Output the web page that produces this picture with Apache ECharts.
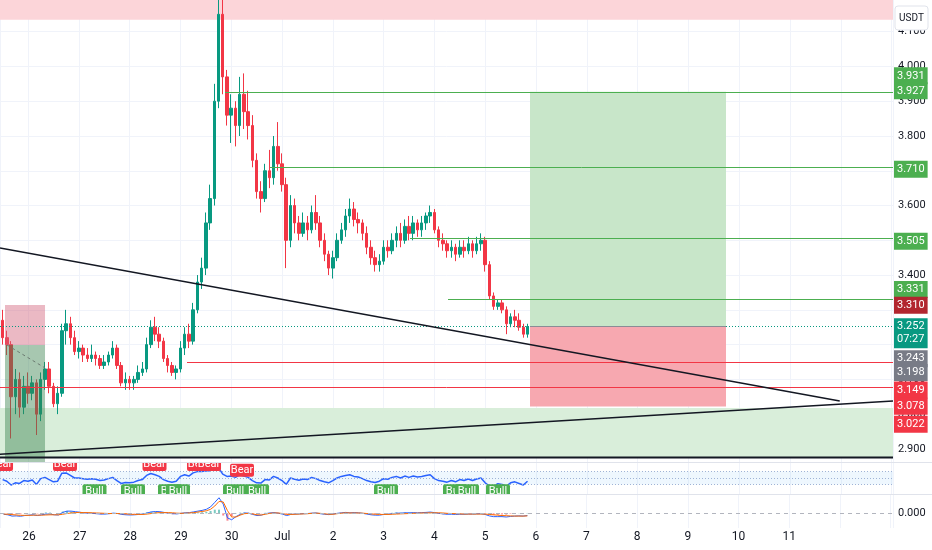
<!DOCTYPE html>
<html><head><meta charset="utf-8">
<script src="https://cdn.jsdelivr.net/npm/echarts@6/dist/echarts.min.js"></script>
<style>html,body{margin:0;padding:0;background:#fff}#c{width:932px;height:550px}</style>
</head><body><div id="c"></div>
<script>
const T = (mo, d, h = 0, mi = 0) => new Date(2025, mo - 1, d, h, mi).getTime();
const HOUR = 3600000;

// ---- price candles (2h), rows: [open, close, low, high]
const candleStart = T(6, 25, 12);
const candleStepHours = 2;
const candles = [
 [3.27,3.22,3.20,3.30],[3.22,3.20,3.17,3.24],[3.20,3.05,2.93,3.21],[3.05,3.10,3.00,3.13],[3.10,3.02,2.99,3.12],[3.02,3.08,3.00,3.11],
 [3.08,3.06,3.03,3.12],[3.06,3.09,3.04,3.11],[3.09,3.00,2.94,3.10],[3.00,3.10,2.98,3.12],[3.10,3.13,3.07,3.15],[3.13,3.08,3.06,3.15],
 [3.08,3.03,3.02,3.09],[3.03,3.06,3.00,3.08],[3.06,3.24,3.05,3.26],[3.24,3.26,3.20,3.30],[3.26,3.22,3.20,3.28],[3.22,3.18,3.17,3.24],
 [3.18,3.19,3.16,3.21],[3.19,3.17,3.15,3.20],[3.17,3.16,3.15,3.19],[3.16,3.17,3.15,3.20],[3.17,3.16,3.14,3.18],[3.16,3.14,3.13,3.17],
 [3.14,3.15,3.13,3.17],[3.15,3.17,3.14,3.18],[3.17,3.19,3.16,3.21],[3.19,3.14,3.13,3.20],[3.14,3.09,3.08,3.15],[3.09,3.10,3.07,3.12],
 [3.10,3.09,3.07,3.11],[3.09,3.10,3.07,3.11],[3.10,3.12,3.09,3.14],[3.12,3.13,3.11,3.15],[3.13,3.20,3.12,3.22],[3.20,3.25,3.19,3.27],
 [3.25,3.23,3.21,3.28],[3.23,3.21,3.19,3.25],[3.21,3.16,3.15,3.22],[3.16,3.14,3.12,3.17],[3.14,3.12,3.11,3.15],[3.12,3.13,3.10,3.14],
 [3.13,3.19,3.12,3.21],[3.19,3.23,3.17,3.25],[3.23,3.21,3.19,3.26],[3.21,3.30,3.20,3.32],[3.30,3.38,3.29,3.40],[3.38,3.42,3.36,3.45],
 [3.42,3.55,3.40,3.58],[3.55,3.62,3.53,3.66],[3.62,3.90,3.60,3.95],[3.90,4.15,3.88,4.25],[4.15,3.97,3.92,4.22],[3.97,3.86,3.83,3.99],
 [3.86,3.88,3.78,3.92],[3.88,3.83,3.77,3.90],[3.83,3.92,3.80,3.97],[3.92,3.87,3.82,3.98],[3.87,3.83,3.79,3.93],[3.83,3.73,3.71,3.86],
 [3.73,3.64,3.62,3.75],[3.64,3.62,3.58,3.67],[3.62,3.70,3.61,3.72],[3.70,3.68,3.65,3.76],[3.68,3.77,3.66,3.80],[3.77,3.72,3.70,3.84],
 [3.72,3.66,3.64,3.75],[3.66,3.50,3.42,3.68],[3.50,3.60,3.48,3.63],[3.60,3.55,3.52,3.62],[3.55,3.52,3.50,3.57],[3.52,3.55,3.51,3.58],
 [3.55,3.53,3.50,3.57],[3.53,3.58,3.52,3.60],[3.58,3.55,3.53,3.63],[3.55,3.50,3.48,3.57],[3.50,3.46,3.44,3.52],[3.46,3.42,3.40,3.47],
 [3.42,3.45,3.39,3.47],[3.45,3.50,3.44,3.52],[3.50,3.53,3.49,3.55],[3.53,3.57,3.51,3.59],[3.57,3.59,3.55,3.62],[3.59,3.56,3.54,3.61],
 [3.56,3.55,3.52,3.58],[3.55,3.52,3.50,3.56],[3.52,3.48,3.46,3.54],[3.48,3.45,3.43,3.50],[3.45,3.43,3.41,3.47],[3.43,3.44,3.41,3.46],
 [3.44,3.48,3.43,3.50],[3.48,3.47,3.45,3.50],[3.47,3.50,3.46,3.52],[3.50,3.52,3.48,3.54],[3.52,3.50,3.48,3.55],[3.50,3.54,3.49,3.56],
 [3.54,3.52,3.50,3.57],[3.52,3.55,3.50,3.57],[3.55,3.53,3.51,3.56],[3.53,3.55,3.51,3.57],[3.55,3.57,3.53,3.58],[3.57,3.58,3.55,3.60],
 [3.58,3.53,3.52,3.59],[3.53,3.50,3.48,3.54],[3.50,3.49,3.47,3.52],[3.49,3.47,3.45,3.50],[3.47,3.48,3.45,3.50],[3.48,3.46,3.44,3.49],
 [3.46,3.48,3.45,3.50],[3.48,3.47,3.45,3.50],[3.47,3.49,3.46,3.51],[3.49,3.47,3.45,3.50],[3.47,3.49,3.46,3.51],[3.49,3.50,3.47,3.52],
 [3.50,3.43,3.41,3.51],[3.43,3.34,3.33,3.44],[3.34,3.31,3.30,3.35],[3.31,3.32,3.30,3.33],[3.32,3.30,3.29,3.33],[3.30,3.26,3.23,3.31],
 [3.26,3.28,3.25,3.29],[3.28,3.27,3.25,3.30],[3.27,3.25,3.24,3.29],[3.25,3.23,3.22,3.26],[3.23,3.252,3.22,3.26]
];

// ---- oscillator pane (0..100)
const rsiValues = [45,40,28,35,33,42, 40,44,30,48,52,45,38,40, 65,66,58,50,50, 48,46,48,46,42,44,48,52,42,
 33,36,35,37,42,45, 58,64,60,55,45,40,37,40, 55,60,56,66,70,70,72,73, 78,82,62,55, 56,52,60,56,52,42,35,
 34,45,44,55,50,42,30, 50,46,43,47,45,52,48,42,38,35, 42,50,55,58,60,55,53,48, 42,38,36,40,48,46,52,55,
 50,56,52,56,53,55,58,60, 48,42,40,37,42,38,45,42,47,42,47,50, 35,25,25,32,30,25,35,38,33,28,40];
const rsiBands = [70, 50, 30];
const bearSignals = [[T(6,25,11,15),92],[T(6,26,17,29),92],[T(6,28,11,46),92],[T(6,29,8,47),92],[T(6,29,13,31),92],[T(6,30,5,6),74]];
const bullSignals = [[T(6,27,7,25),10],[T(6,28,1,36),10],[T(6,28,19,5),10],[T(6,28,22,52),10],[T(6,30,1,48),10],[T(6,30,12,12),10],
 [T(7,3,1,8),10],[T(7,4,9,44),10],[T(7,4,15,24),10],[T(7,5,6,3),10]];

// ---- MACD pane
const macdValues = [-0.005,-0.008,-0.015,-0.014,-0.016,-0.012,-0.010,-0.008,-0.012,-0.008,-0.004,-0.004,-0.008,-0.009,
 0.005,0.012,0.012,0.009,0.006,0.003,0.001,0.000,-0.002,-0.004,-0.004,-0.002,0.001,-0.001,
 -0.006,-0.008,-0.009,-0.008,-0.006,-0.004,0.002,0.008,0.010,0.009,0.005,0.001,-0.002,-0.003,
 0.000,0.003,0.004,0.008,0.012,0.016,0.022,0.035,0.060,0.085,0.050,-0.025,
 -0.035,-0.018,-0.006,0.002,0.001,-0.006,-0.012,-0.010,-0.002,0.002,0.004,0.001,-0.004,-0.012,
 -0.006,-0.004,-0.003,-0.002,-0.001,0.001,0.002,-0.002,-0.005,-0.007,-0.004,0.000,0.003,0.005,
 0.003,0.004,0.003,0.000,-0.004,-0.008,-0.010,-0.010,-0.006,-0.005,-0.002,0.001,0.001,0.003,
 0.003,0.004,0.003,0.004,0.005,0.007,0.004,0.000,-0.003,-0.005,-0.005,-0.006,-0.005,-0.005,
 -0.004,-0.004,-0.003,-0.002,-0.006,-0.014,-0.018,-0.018,-0.018,-0.020,-0.017,-0.015,-0.014,-0.015,-0.012];
const signalValues = [-0.004,-0.005,-0.007,-0.009,-0.011,-0.011,-0.011,-0.010,-0.010,-0.010,-0.009,-0.008,-0.008,-0.008,
 -0.005,-0.001,0.002,0.004,0.005,0.004,0.004,0.003,0.002,0.001,0.000,-0.001,-0.001,-0.001,
 -0.002,-0.003,-0.005,-0.006,-0.006,-0.006,-0.004,-0.001,0.002,0.004,0.004,0.004,0.003,0.001,
 0.000,0.001,0.002,0.004,0.007,0.010,0.014,0.022,0.040,0.065,0.062,0.015,
 -0.020,-0.020,-0.010,-0.002,0.000,-0.003,-0.008,-0.009,-0.005,0.000,0.002,0.002,-0.001,-0.006,
 -0.006,-0.005,-0.004,-0.003,-0.002,0.000,0.001,0.000,-0.003,-0.005,-0.005,-0.002,0.001,0.003,
 0.002,0.002,0.002,0.001,-0.001,-0.003,-0.005,-0.006,-0.006,-0.006,-0.005,-0.004,-0.003,-0.002,
 -0.001,0.000,0.001,0.002,0.002,0.003,0.003,0.003,0.002,0.000,-0.001,-0.002,-0.003,-0.004,
 -0.004,-0.004,-0.004,-0.004,-0.004,-0.006,-0.008,-0.010,-0.012,-0.013,-0.014,-0.015,-0.015,-0.015,-0.014];

// ---- drawings (time, price)
const viewStart = T(6,25,10,46), viewEnd = T(7,13,0,40);
const lastDateLabel = T(7,11,12);
const priceMin = 2.8624, priceMax = 4.1911;
const topZone = [4.134, priceMax];
const bottomZone = [2.875, 3.0177];
const oldShort = {t0: T(6,25,13,8), t1: T(6,26,8,2), stop: 3.314, entry: 3.199, target: priceMin};
const oldShortPath = [[T(6,25,14,5), 3.199], [T(6,26,8,0), 3.133]];
const longPos = {t0: T(7,5,21,10), t1: T(7,9,17,46), stop: 3.022, entry: 3.252, target: 3.927};
const greenLevels = [[3.927, T(6,29,21,4)], [3.710, T(6,30,18,20)], [3.505, T(7,3,12,28)], [3.331, T(7,4,6,26)]];
const redLevels = [[3.149, T(6,29,3,7)], [3.078, viewStart]];
const trendDown = [[viewStart, 3.478], [T(7,11,23,30), 3.038]];
const trendUp = [[viewStart, 2.885], [viewEnd, 3.038]];
const baseLine = [[viewStart, 2.875], [viewEnd, 2.875]];
const lastPrice = 3.252, countdown = '07:27';
const tagValues = [3.931, 3.927, 3.710, 3.505, 3.331, 3.310, 3.252, 3.243, 3.198, 3.149, 3.078, 3.022];

// ---- styles
const tagColors = ['#4caf50','#4caf50','#4caf50','#4caf50','#4caf50','#b2262f','#089981','#787b86','#787b86','#f23645','#f23645','#f23645'];
const tagShift = [-15,0,2,1,-10,-1,6,28,28,28,20,17];
const FONT = "Roboto, 'Liberation Sans', sans-serif";
const UP = '#089981', DOWN = '#f23645', GRID = '#f0f3fa';
const MONTHS = ['Jan','Feb','Mar','Apr','May','Jun','Jul','Aug','Sep','Oct','Nov','Dec'];

const candleTimes = candles.map((_, i) => candleStart + i * candleStepHours * HOUR);
const candleData = candles.map((c, i) => [candleTimes[i], c[0], c[1], c[2], c[3]]);
const histValues = macdValues.map((v, i) => +(v - signalValues[i]).toFixed(4));

const chart = echarts.init(document.getElementById('c'), null, {renderer: 'canvas'});

function timeAxis(gridIndex, show) {
  return {
    type: 'time', gridIndex, min: viewStart, max: viewEnd, minInterval: 864e5, maxInterval: 864e5,
    axisLine: {show: false}, axisTick: {show: false},
    splitLine: {show: true, lineStyle: {color: GRID, width: 1}},
    axisLabel: show ? {
      show: true, color: '#131722', fontSize: 12, fontFamily: FONT, margin: 3, hideOverlap: false,
      formatter: v => { if (v > lastDateLabel) return ''; const d = new Date(v); return d.getDate() === 1 ? MONTHS[d.getMonth()] : String(d.getDate()); }
    } : {show: false}
  };
}

const tagLines = tagValues.map((v, i) => ({
  yAxis: v,
  lineStyle: {color: 'rgba(0,0,0,0)', width: 1},
  label: {
    show: true, position: 'end', distance: 1,
    formatter: i === 6 ? v.toFixed(3) + '\n' + countdown : v.toFixed(3),
    color: '#fff', backgroundColor: tagColors[i], padding: [2, 3], fontSize: 11, lineHeight: 13,
    fontFamily: FONT, offset: [0, tagShift[i]], opacity: 1
  }
}));

const levelLines = [
  ...greenLevels.map(([v, t]) => [{coord: [t, v], lineStyle: {color: '#4caf50', width: 1, type: 'solid'}}, {coord: [viewEnd, v]}]),
  ...redLevels.map(([v, t]) => [{coord: [t, v], lineStyle: {color: '#f23645', width: 1, type: 'solid'}}, {coord: [viewEnd, v]}]),
  [{coord: [viewStart, lastPrice], lineStyle: {color: UP, width: 1, type: [1, 2]}}, {coord: [viewEnd, lastPrice]}],
  [{coord: [longPos.t0, longPos.entry], lineStyle: {color: '#8a8d96', width: 1, type: 'solid'}}, {coord: [longPos.t1, longPos.entry]}]
];

function signalItem(params, api) {
  const p = api.coord([api.value(0), api.value(1)]);
  const bull = api.value(2) === 1;
  return {type: 'group', children: [
    {type: 'rect', shape: {x: p[0] - 12, y: p[1] - 6.5, width: 24, height: 13, r: 2}, style: {fill: bull ? '#4caf50' : '#f23645'}},
    {type: 'text', style: {x: p[0], y: p[1], text: bull ? 'Bull' : 'Bear', fill: '#fff', font: '11px ' + FONT,
      align: 'center', verticalAlign: 'middle', textAlign: 'center', textVerticalAlign: 'middle'}}
  ]};
}

const option = {
  animation: false,
  backgroundColor: '#ffffff',
  textStyle: {fontFamily: FONT},
  grid: [
    {left: 0, right: 39, top: 0, height: 462},
    {left: 0, right: 39, top: 462, height: 32},
    {left: 0, right: 39, top: 495, height: 33}
  ],
  xAxis: [timeAxis(0, false), timeAxis(1, false), timeAxis(2, true)],
  yAxis: [
    {type: 'value', gridIndex: 0, position: 'right', min: priceMin, max: priceMax, splitNumber: 13,
      axisLine: {show: false}, axisTick: {show: false},
      splitLine: {lineStyle: {color: GRID}},
      axisLabel: {color: '#131722', fontSize: 11, fontFamily: FONT, margin: 5,
        formatter: v => Math.abs(v * 10 - Math.round(v * 10)) < 1e-6 ? v.toFixed(3) : ''}},
    {type: 'value', gridIndex: 1, position: 'right', min: 0, max: 100,
      axisLine: {show: false}, axisTick: {show: false}, splitLine: {show: false}, axisLabel: {show: false}},
    {type: 'value', gridIndex: 2, position: 'right', min: -0.08, max: 0.1,
      axisLine: {show: false}, axisTick: {show: false}, splitLine: {show: false},
      axisLabel: {color: '#131722', fontSize: 11, fontFamily: FONT, margin: 5,
        formatter: v => Math.abs(v) < 1e-9 ? '0.000' : ''}}
  ],
  graphic: [
    {type: 'line', shape: {x1: 0, y1: 462.5, x2: 932, y2: 462.5}, style: {stroke: '#e0e3eb', lineWidth: 1}, z: 10},
    {type: 'line', shape: {x1: 0, y1: 494.5, x2: 932, y2: 494.5}, style: {stroke: '#e0e3eb', lineWidth: 1}, z: 10},
    {type: 'rect', shape: {x: 895, y: 6, width: 33, height: 24, r: 3}, style: {fill: '#fff', stroke: '#e0e3eb', lineWidth: 1}, z: 20},
    {type: 'text', x: 911.5, y: 18, style: {text: 'USDT', fill: '#131722', font: '10px ' + FONT, align: 'center', verticalAlign: 'middle'}, z: 21}
  ],
  series: [
    { // zones behind candles
      type: 'line', xAxisIndex: 0, yAxisIndex: 0, data: [], z: 1, silent: true,
      markArea: {silent: true, z: 1, data: [
        [{yAxis: topZone[0], itemStyle: {color: '#fcd5d9'}}, {yAxis: topZone[1]}],
        [{yAxis: bottomZone[0], itemStyle: {color: '#d9eeda'}}, {yAxis: bottomZone[1]}],
        [{coord: [longPos.t0, longPos.entry], itemStyle: {color: '#c8e6c9'}}, {coord: [longPos.t1, longPos.target]}],
        [{coord: [longPos.t0, longPos.stop], itemStyle: {color: '#f7a8b0'}}, {coord: [longPos.t1, longPos.entry]}]
      ]}
    },
    {
      type: 'candlestick', xAxisIndex: 0, yAxisIndex: 0, z: 3, barWidth: 3,
      encode: {x: 0, y: [1, 2, 3, 4]},
      data: candleData,
      itemStyle: {color: UP, color0: DOWN, borderColor: UP, borderColor0: DOWN, borderWidth: 1}
    },
    { // old short position box over candles
      type: 'line', xAxisIndex: 0, yAxisIndex: 0, data: [], z: 4, silent: true,
      markArea: {silent: true, z: 4, data: [
        [{coord: [oldShort.t0, oldShort.stop], itemStyle: {color: 'rgba(210,100,125,0.45)'}}, {coord: [oldShort.t1, oldShort.entry]}],
        [{coord: [oldShort.t0, oldShort.entry], itemStyle: {color: 'rgba(60,130,80,0.45)'}}, {coord: [oldShort.t1, oldShort.target]}]
      ]}
    },
    {type: 'line', xAxisIndex: 0, yAxisIndex: 0, data: oldShortPath, z: 5, symbol: 'none', silent: true,
      lineStyle: {color: '#6b7a70', width: 1, type: [3, 3]}},
    {type: 'line', xAxisIndex: 0, yAxisIndex: 0, data: trendDown, z: 5, symbol: 'none', silent: true, lineStyle: {color: '#131722', width: 1.5}},
    {type: 'line', xAxisIndex: 0, yAxisIndex: 0, data: trendUp, z: 5, symbol: 'none', silent: true, lineStyle: {color: '#131722', width: 1.5}},
    {type: 'line', xAxisIndex: 0, yAxisIndex: 0, data: baseLine, z: 5, symbol: 'none', silent: true, lineStyle: {color: '#131722', width: 2}},
    { // level lines
      type: 'line', xAxisIndex: 0, yAxisIndex: 0, data: [], z: 5, silent: true,
      markLine: {silent: true, symbol: ['none', 'none'], label: {show: false}, data: levelLines}
    },
    { // axis price tags
      type: 'line', xAxisIndex: 0, yAxisIndex: 0, data: [[viewStart, lastPrice]], symbol: 'none', lineStyle: {opacity: 0}, z: 8, silent: true,
      markLine: {silent: true, symbol: ['none', 'none'], z: 8, data: tagLines}
    },
    // oscillator pane
    {
      type: 'line', xAxisIndex: 1, yAxisIndex: 1, symbol: 'none', z: 3,
      data: rsiValues.map((v, i) => [candleTimes[i], v]),
      lineStyle: {color: '#2962ff', width: 1.5},
      markArea: {silent: true, data: [[{yAxis: rsiBands[2], itemStyle: {color: 'rgba(33,150,243,0.08)'}}, {yAxis: rsiBands[0]}]]},
      markLine: {silent: true, symbol: ['none', 'none'], label: {show: false},
        data: rsiBands.map(v => ({yAxis: v, lineStyle: {color: '#9fb3d6', width: 1, type: [1, 2]}}))}
    },
    {
      type: 'custom', xAxisIndex: 1, yAxisIndex: 1, clip: true, z: 6, silent: true,
      data: [...bearSignals.map(s => [s[0], s[1], 0]), ...bullSignals.map(s => [s[0], s[1], 1])],
      renderItem: signalItem
    },
    // MACD pane
    {
      type: 'bar', xAxisIndex: 2, yAxisIndex: 2, barWidth: 2, z: 2, silent: true,
      data: histValues.map((v, i) => ({value: [candleTimes[i], v], itemStyle: {color: v >= 0 ? 'rgba(38,166,154,0.6)' : 'rgba(242,54,69,0.6)'}})),
      markLine: {silent: true, symbol: ['none', 'none'], label: {show: false},
        data: [{yAxis: 0, lineStyle: {color: '#b2b5be', width: 1, type: [4, 4]}}]}
    },
    {type: 'line', xAxisIndex: 2, yAxisIndex: 2, symbol: 'none', z: 3, data: macdValues.map((v, i) => [candleTimes[i], v]),
      lineStyle: {color: '#2962ff', width: 1}},
    {type: 'line', xAxisIndex: 2, yAxisIndex: 2, symbol: 'none', z: 3, data: signalValues.map((v, i) => [candleTimes[i], v]),
      lineStyle: {color: '#ff6d00', width: 1}}
  ]
};
chart.setOption(option);
</script></body></html>
